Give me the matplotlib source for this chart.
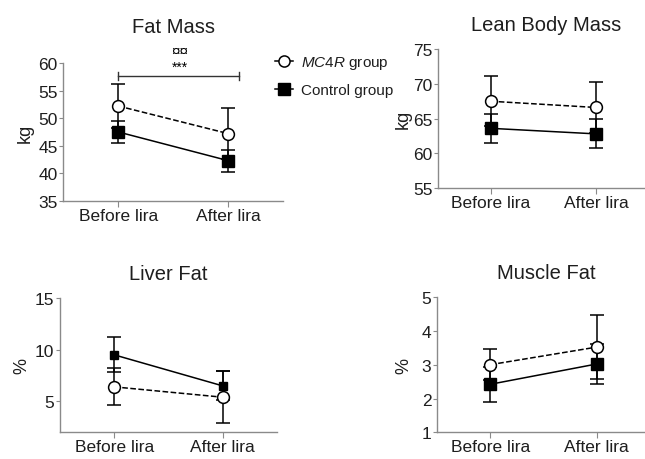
import matplotlib
matplotlib.use('Agg')
import matplotlib.pyplot as plt
from matplotlib.lines import Line2D

plt.rcParams['font.family'] = ['Liberation Sans', 'DejaVu Sans']
plt.rcParams['mathtext.fontset'] = 'custom'
plt.rcParams['mathtext.it'] = 'Liberation Sans:italic'
plt.rcParams['mathtext.rm'] = 'Liberation Sans'

timepoints = ['Before lira', 'After lira']

fat_mc4r = [52.2, 47.2]
fat_mc4r_err = [4.0, 4.6]
fat_ctrl = [47.5, 42.3]
fat_ctrl_err = [2.0, 2.0]

lean_mc4r = [67.5, 66.6]
lean_mc4r_err = [3.6, 3.7]
lean_ctrl = [63.6, 62.8]
lean_ctrl_err = [2.1, 2.1]

liver_mc4r = [6.4, 5.4]
liver_mc4r_err = [1.8, 2.5]
liver_ctrl = [9.5, 6.5]
liver_ctrl_err = [1.7, 1.4]

muscle_mc4r = [3.0, 3.52]
muscle_mc4r_err = [0.45, 0.95]
muscle_ctrl = [2.42, 3.02]
muscle_ctrl_err = [0.52, 0.6]

GRAY = '#8a8a8a'
TXT = '#1e1e1e'

fig = plt.figure(figsize=(6.45, 4.6), dpi=100)


def panel(rect, title, ylabel, mc4r, mc4r_err, ctrl, ctrl_err, ylim, yticks,
          xright=1.5, sq=8, labelpad=4, tpad=14):
    ax = fig.add_axes(rect)
    x = range(len(timepoints))
    ax.errorbar(x, ctrl, yerr=ctrl_err, color='black', ls='-', lw=1.1,
                marker='s', ms=sq, mfc='black', capsize=5, elinewidth=1.1,
                capthick=1.1, zorder=3)
    ax.errorbar(x, mc4r, yerr=mc4r_err, color='black', ls='--', lw=1.1,
                marker='o', ms=8.5, mfc='white', mew=1.1, capsize=5,
                elinewidth=1.1, capthick=1.1, zorder=4)
    ax.set_xlim(-0.5, xright)
    ax.set_ylim(*ylim)
    ax.set_yticks(yticks)
    ax.set_xticks(list(x))
    ax.set_xticklabels(timepoints, fontsize=12.5)
    ax.tick_params(axis='y', labelsize=12.5, colors=GRAY, labelcolor=TXT,
                   length=3, pad=1)
    ax.tick_params(axis='x', colors=GRAY, labelcolor=TXT, length=4, pad=1)
    for s in ['top', 'right']:
        ax.spines[s].set_visible(False)
    for s in ['left', 'bottom']:
        ax.spines[s].set_color(GRAY)
        ax.spines[s].set_linewidth(1.0)
    ax.set_title(title, fontsize=14.5, color=TXT, pad=tpad)
    ax.set_ylabel(ylabel, fontsize=13, color=TXT, labelpad=labelpad)
    return ax


ax1 = panel([0.098, 0.561, 0.341, 0.300], 'Fat Mass', 'kg',
            fat_mc4r, fat_mc4r_err, fat_ctrl, fat_ctrl_err,
            (35, 60), [35, 40, 45, 50, 55, 60], tpad=22, labelpad=3)
# significance bracket
ax1.plot([0, 1.1], [57.6, 57.6], color='#333333', lw=1.0, clip_on=False)
ax1.plot([0, 0], [56.9, 58.3], color='#333333', lw=1.0, clip_on=False)
ax1.plot([1.1, 1.1], [56.9, 58.3], color='#333333', lw=1.0, clip_on=False)
ax1.text(0.56, 58.0, '***', ha='center', va='bottom', fontsize=10, clip_on=False)
ax1.text(0.56, 61.0, '\u00a4\u00a4', ha='center', va='bottom', fontsize=11,
         clip_on=False)

panel([0.679, 0.589, 0.335, 0.302], 'Lean Body Mass', 'kg',
      lean_mc4r, lean_mc4r_err, lean_ctrl, lean_ctrl_err,
      (55, 75), [55, 60, 65, 70, 75], xright=1.55, labelpad=1)

panel([0.093, 0.058, 0.336, 0.292], 'Liver Fat', '%',
      liver_mc4r, liver_mc4r_err, liver_ctrl, liver_ctrl_err,
      (2, 15), [5, 10, 15], sq=5.5, labelpad=3)

panel([0.6775, 0.058, 0.338, 0.294], 'Muscle Fat', '%',
      muscle_mc4r, muscle_mc4r_err, muscle_ctrl, muscle_ctrl_err,
      (1, 5), [1, 2, 3, 4, 5], xright=1.55, labelpad=7)

handles = [
    Line2D([0], [0], color='black', ls='-', lw=1.1, marker='o', ms=8,
           mfc='white', mew=1.1),
    Line2D([0], [0], color='black', ls='-', lw=1.1, marker='s', ms=8,
           mfc='black'),
]
fig.legend(handles, [r'$\it{MC4R}$ group', 'Control group'],
           loc='upper left', bbox_to_anchor=(0.405, 0.91), frameon=False,
           fontsize=11, handlelength=1.2, handletextpad=0.5, labelspacing=0.8,
           labelcolor=TXT)

fig.savefig('out.png', dpi=100)
